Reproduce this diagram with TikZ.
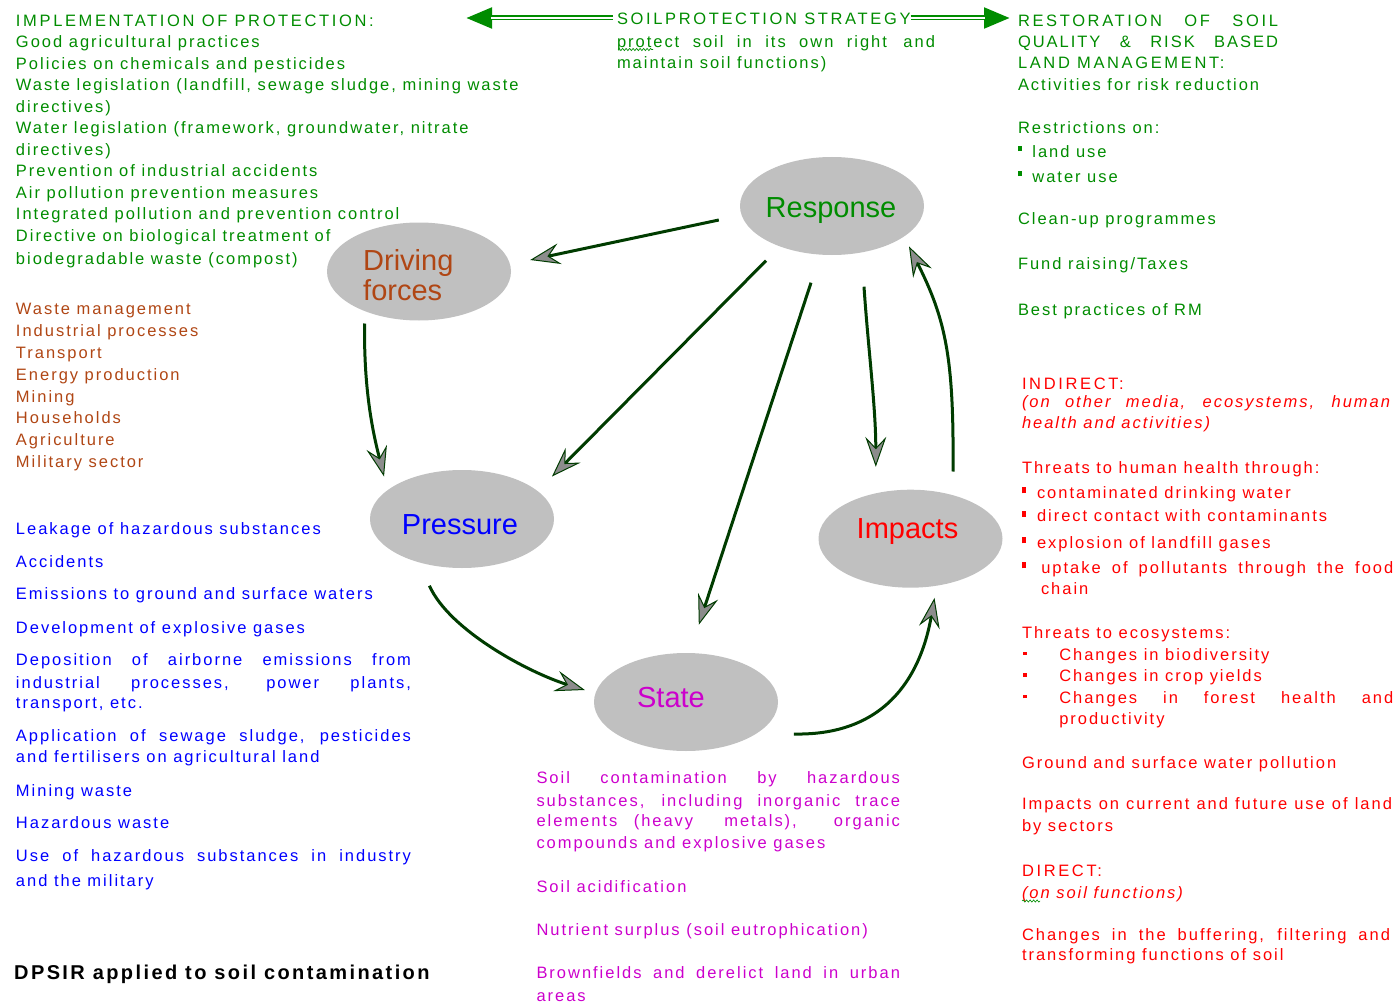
\documentclass[tikz,border=0pt]{standalone}
\usepackage{fontspec}
\setmainfont{Liberation Sans}
\newfontfamily\bodyfont[LetterSpace=12]{Liberation Sans}
\newfontfamily\capsfont[LetterSpace=16]{Liberation Sans}
\usetikzlibrary{arrows.meta,shapes.geometric,decorations.pathmorphing}

\definecolor{tgreen}{RGB}{0,140,0}
\definecolor{dbrown}{RGB}{176,70,20}
\definecolor{tblue}{RGB}{0,0,255}
\definecolor{tmag}{RGB}{204,0,204}
\definecolor{tred}{RGB}{255,0,0}
\definecolor{bubblegray}{RGB}{192,192,192}
\definecolor{linkgreen}{RGB}{0,60,0}
\definecolor{tipgray}{RGB}{140,140,140}

% a line stretched to a given width
\newcommand\jl[2]{\makebox[#1pt][s]{#2}}
% all-caps headings, a little wider tracked
\newcommand\hd[1]{{\capsfont\fontsize{16.5}{21.5}\selectfont #1}}
% bullets
\newcommand\gbul{\rule[6.5pt]{4.4pt}{5.4pt}\hspace{10pt}}
\newcommand\rbul{\rule[5pt]{4.3pt}{6pt}\hspace{10.7pt}}
\newcommand\rbulw{\rule[5pt]{4.3pt}{6pt}\hspace{15pt}}
\newcommand\ebul{\hspace*{1.3pt}\rule[5pt]{3.4pt}{3.4pt}\hspace{32.6pt}}

\begin{document}
\begin{tikzpicture}[x=1pt,y=-1pt,
  txt/.style={anchor=north west, inner sep=0pt, outer sep=0pt, align=left,
    font=\bodyfont\fontsize{16.5}{21.5}\selectfont},
  bubble/.style={ellipse, fill=bubblegray, inner sep=0pt,
    minimum width=184pt, minimum height=98pt},
  lbl/.style={inner sep=0pt, font=\fontsize{29}{30}\selectfont},
  link/.style={draw=linkgreen, line width=3pt,
    -{Stealth[length=30pt,width=21pt,inset=11pt,fill=tipgray,line width=1pt]}},
  dblarrow/.style={draw=tgreen, line width=5pt,
    -{Triangle[length=26pt,width=20pt]},
    postaction={draw=white, line width=1.4pt, arrows=-, shorten >=25pt}},
  squiggle/.style={draw=tgreen, line width=0.7pt, decorate,
    decoration={snake, amplitude=1.1pt, segment length=3.5pt}}]
\useasboundingbox (0,0) rectangle (1398,1006);

% ---------- strategy header with double arrows ----------
\node[txt, text=tgreen, anchor=base west] (st) at (617,25) {\strut\hd{SOILPROTECTION STRATEGY}};
\coordinate (L) at (466,18);
\coordinate (R) at (1010,18);
\draw[dblarrow, shorten <=4pt] (st.west |- L) -- (L);
\draw[dblarrow] (st.east |- R) -- (R);
\node[txt, text=tgreen] (stpar) at (617,32)
  {\strut\jl{318}{protect soil in its own right\quad and}\\
   maintain soil functions)};
\draw[squiggle] (618,49.5) -- (653,49.5);

% ---------- left column ----------
\node[txt, text=tgreen] (impl) at (16,11)
  {\strut\hd{IMPLEMENTATION OF PROTECTION:}\\
   Good agricultural practices\\
   Policies on chemicals and pesticides\\
   Waste legislation (landfill, sewage sludge, mining waste\\
   directives)\\
   Water legislation (framework, groundwater, nitrate\\
   directives)\\
   Prevention of industrial accidents\\
   Air pollution prevention measures\\
   Integrated pollution and prevention control\\
   Directive on biological treatment of\\[1.5pt]
   biodegradable waste (compost)};

\node[txt, text=dbrown, font=\bodyfont\fontsize{16.5}{21.8}\selectfont] (drivers) at (16,299.7)
  {\strut Waste management\\
   Industrial processes\\
   Transport\\
   Energy production\\
   Mining\\
   Households\\
   Agriculture\\
   Military sector};

\node[txt, text=tblue] (pressures) at (16,519)
  {\strut Leakage of hazardous substances\\[11.8pt]
   Accidents\\[10.5pt]
   Emissions to ground and surface waters\\[12.5pt]
   Development of explosive gases\\[10.2pt]
   \jl{395}{Deposition of airborne emissions from}\\[1.8pt]
   \jl{395}{industrial processes, power plants,}\\[-1.5pt]
   transport, etc.\\[11.9pt]
   \jl{395}{Application of sewage sludge, pesticides}\\[-0.5pt]
   and fertilisers on agricultural land\\[11.8pt]
   Mining waste\\[10.8pt]
   Hazardous waste\\[11.9pt]
   \jl{395}{Use of hazardous substances in industry}\\[2.8pt]
   and the military};

\node[anchor=base west, inner sep=0pt, font=\bodyfont\bfseries\fontsize{20}{24}\selectfont]
  (title) at (14,979) {DPSIR applied to soil contamination};

% ---------- middle column ----------
\node[txt, text=tmag] (states) at (536.5,768.3)
  {\strut\jl{363.5}{Soil contamination by hazardous}\\[1.9pt]
   \jl{363.5}{substances, including inorganic trace}\\[-1.5pt]
   \jl{363.5}{elements\quad (heavy metals), organic}\\[0.1pt]
   compounds and explosive gases\\[22.5pt]
   Soil acidification\\[21.9pt]
   Nutrient surplus (soil eutrophication)\\[21.1pt]
   \jl{363.5}{Brownfields and derelict land in urban}\\[1.9pt]
   areas};

% ---------- right column ----------
\node[txt, text=tgreen] (restor) at (1018,11)
  {\strut\jl{260}{\hd{RESTORATION OF SOIL}}\\[0.2pt]
   \jl{260}{QUALITY \& RISK BASED}\\[-0.5pt]
   \hd{LAND MANAGEMENT:}\\
   Activities for risk reduction\\[21.9pt]
   Restrictions on:\\[2.5pt]
   \gbul land use\\[3.5pt]
   \gbul water use\\[20.8pt]
   Clean-up programmes\\[22.8pt]
   Fund raising/Taxes\\[25.2pt]
   Best practices of RM};

\node[txt, text=tred] (impacts) at (1022,374)
  {\strut\hd{INDIRECT:}\\[-3.2pt]
   {\itshape\jl{368}{(on other media, ecosystems, human}}\\[-0.5pt]
   {\itshape health and activities)}\\[23.5pt]
   Threats to human health through:\\[3.5pt]
   \rbul contaminated drinking water\\[2pt]
   \rbul direct contact with contaminants\\[5pt]
   \rbul explosion of landfill gases\\[3.5pt]
   \rbulw\jl{352}{uptake of pollutants through the food}\\[-0.8pt]
   \hspace*{19pt}chain\\[22.8pt]
   Threats to ecosystems:\\[0.2pt]
   \ebul Changes in biodiversity\\[0.2pt]
   \ebul Changes in crop yields\\[0pt]
   \ebul\jl{334}{Changes in forest health and}\\[0.2pt]
   \hspace*{37.3pt}productivity\\[21.8pt]
   Ground and surface water pollution\\[20.2pt]
   \jl{370}{Impacts on current and future use of land}\\[0.2pt]
   by sectors\\[23.5pt]
   \hd{DIRECT:}\\[0pt]
   {\itshape (on soil functions)}\\[20.5pt]
   \jl{368}{Changes in the buffering, filtering and}\\[-1.5pt]
   transforming functions of soil};
\draw[squiggle, line width=0.6pt] (1022,901) -- (1040,901);

% ---------- DPSIR cycle ----------
\node[bubble] (resp)  at (832,206)     {};
\node[bubble] (drive) at (419,271.5)   {};
\node[bubble] (press) at (462,519)     {};
\node[bubble] (imp)   at (910.5,538.7) {};
\node[bubble] (state) at (686,702)     {};

\node[lbl, text=tgreen, anchor=base] (respL)  at (831,218)   {Response};
\node[lbl, text=dbrown, anchor=north west, align=left] (driveL) at (363,249) {Driving\\forces};
\node[lbl, text=tblue, anchor=base] (pressL) at (460,534)   {Pressure};
\node[lbl, text=tred, anchor=base] (impL)   at (907.5,538) {Impacts};
\node[lbl, text=tmag, anchor=base] (stateL) at (671,707)   {State};

% response -> driving forces
\draw[link] ([xshift=-21pt,yshift=-14pt]resp.west) -- ([xshift=19pt,yshift=11.5pt]drive.east);
% driving forces -> pressure
\draw[link] ([xshift=-54.4pt,yshift=-2.8pt]drive.south)
  .. controls +(-1,70) and +(-10,-40) .. ([xshift=-78pt,yshift=-6.7pt]press.north);
% response -> pressure
\draw[link] ([xshift=-66pt,yshift=-5.5pt]resp.south) -- ([xshift=90pt,yshift=-6.7pt]press.north);
% response -> state
\draw[link] ([xshift=-21pt,yshift=-27.5pt]resp.south) -- ([xshift=12.8pt,yshift=28pt]state.north);
% response -> impacts
\draw[link] ([xshift=32pt,yshift=-31.5pt]resp.south)
  .. controls +(4,60) and +(0,-60) .. ([xshift=-34.7pt,yshift=22.7pt]imp.north);
% impacts -> response
\draw[link] ([xshift=42.5pt,yshift=18pt]imp.north)
  .. controls +(1,-112.7) and +(37,73.3) .. ([xshift=77pt,yshift=8.8pt]resp.south);
% pressure -> state
\draw[link] ([xshift=-32.6pt,yshift=-17.5pt]press.south)
  .. controls +(20,45) and +(-55,-17) .. ([xshift=-9pt,yshift=12pt]state.west);
% state -> impacts
\draw[link] ([xshift=15.7pt,yshift=-32pt]state.east)
  .. controls +(97,2) and +(-12.5,71.3) .. ([xshift=24pt,yshift=-10pt]imp.south);
\end{tikzpicture}
\end{document}
